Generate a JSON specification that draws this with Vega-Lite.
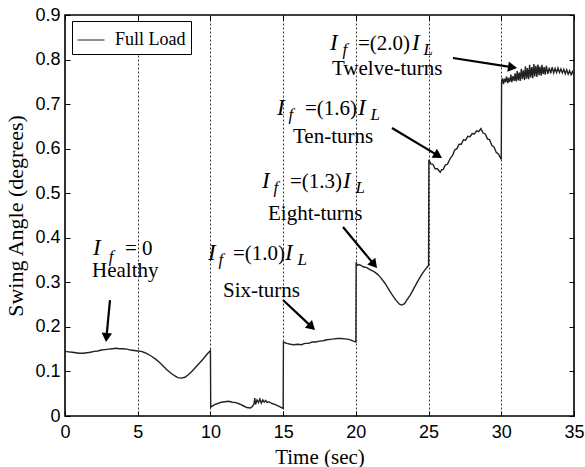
{
  "$schema": "https://vega.github.io/schema/vega-lite/v6.json",
  "width": 509,
  "height": 401,
  "autosize": {"type": "none"},
  "padding": {"left": 65, "top": 15, "right": 11, "bottom": 51},
  "background": "#ffffff",
  "config": {
    "view": {"stroke": "#000000", "strokeWidth": 1.6},
    "legend": {
      "orient": "none",
      "legendX": 7,
      "legendY": 6,
      "strokeColor": "#000000",
      "fillColor": "#ffffff",
      "padding": 5,
      "labelFont": "Liberation Serif",
      "labelFontSize": 18,
      "labelColor": "#000000",
      "labelOffset": 10,
      "symbolType": "stroke",
      "symbolSize": 729,
      "symbolStrokeWidth": 1
    }
  },
  "datasets": {
    "curve": [
      {"t": 0, "v": 0.145}, {"t": 0.25, "v": 0.144}, {"t": 0.5, "v": 0.143}, {"t": 0.75, "v": 0.142},
      {"t": 1.0, "v": 0.141}, {"t": 1.25, "v": 0.141}, {"t": 1.5, "v": 0.142}, {"t": 1.75, "v": 0.143},
      {"t": 2.0, "v": 0.145}, {"t": 2.25, "v": 0.146}, {"t": 2.5, "v": 0.148}, {"t": 2.75, "v": 0.149},
      {"t": 3.0, "v": 0.15}, {"t": 3.25, "v": 0.151}, {"t": 3.5, "v": 0.152}, {"t": 3.75, "v": 0.151},
      {"t": 4.0, "v": 0.151}, {"t": 4.25, "v": 0.15}, {"t": 4.5, "v": 0.148}, {"t": 4.75, "v": 0.147},
      {"t": 5.0, "v": 0.146}, {"t": 5.25, "v": 0.145}, {"t": 5.5, "v": 0.142}, {"t": 5.75, "v": 0.138},
      {"t": 6.0, "v": 0.133}, {"t": 6.25, "v": 0.127}, {"t": 6.5, "v": 0.12}, {"t": 6.75, "v": 0.112},
      {"t": 7.0, "v": 0.104}, {"t": 7.25, "v": 0.097}, {"t": 7.5, "v": 0.091}, {"t": 7.75, "v": 0.086},
      {"t": 8.0, "v": 0.085}, {"t": 8.25, "v": 0.087}, {"t": 8.5, "v": 0.093}, {"t": 8.75, "v": 0.101},
      {"t": 9.0, "v": 0.11}, {"t": 9.25, "v": 0.119}, {"t": 9.5, "v": 0.128}, {"t": 9.75, "v": 0.138},
      {"t": 10.0, "v": 0.147},
      {"t": 10.02, "v": 0.02}, {"t": 10.25, "v": 0.025}, {"t": 10.5, "v": 0.028}, {"t": 10.75, "v": 0.031},
      {"t": 11.0, "v": 0.032}, {"t": 11.25, "v": 0.033}, {"t": 11.5, "v": 0.031}, {"t": 11.75, "v": 0.03},
      {"t": 12.0, "v": 0.027}, {"t": 12.25, "v": 0.023}, {"t": 12.5, "v": 0.019}, {"t": 12.75, "v": 0.018},
      {"t": 12.9, "v": 0.022}, {"t": 13.0, "v": 0.028}, {"t": 13.05, "v": 0.04}, {"t": 13.1, "v": 0.026},
      {"t": 13.2, "v": 0.036}, {"t": 13.3, "v": 0.03}, {"t": 13.4, "v": 0.038}, {"t": 13.5, "v": 0.029},
      {"t": 13.6, "v": 0.036}, {"t": 13.7, "v": 0.031}, {"t": 13.8, "v": 0.035}, {"t": 13.9, "v": 0.03},
      {"t": 14.0, "v": 0.032}, {"t": 14.25, "v": 0.028}, {"t": 14.5, "v": 0.025}, {"t": 14.75, "v": 0.021},
      {"t": 15.0, "v": 0.017},
      {"t": 15.02, "v": 0.166}, {"t": 15.25, "v": 0.163}, {"t": 15.5, "v": 0.161}, {"t": 15.75, "v": 0.16},
      {"t": 16.0, "v": 0.161}, {"t": 16.25, "v": 0.16}, {"t": 16.5, "v": 0.163}, {"t": 16.75, "v": 0.163},
      {"t": 17.0, "v": 0.166}, {"t": 17.25, "v": 0.166}, {"t": 17.5, "v": 0.168}, {"t": 17.75, "v": 0.169},
      {"t": 18.0, "v": 0.171}, {"t": 18.25, "v": 0.172}, {"t": 18.5, "v": 0.173}, {"t": 18.75, "v": 0.174},
      {"t": 19.0, "v": 0.174}, {"t": 19.25, "v": 0.173}, {"t": 19.5, "v": 0.172}, {"t": 19.75, "v": 0.169},
      {"t": 20.0, "v": 0.166},
      {"t": 20.02, "v": 0.345}, {"t": 20.1, "v": 0.338}, {"t": 20.25, "v": 0.34}, {"t": 20.5, "v": 0.335},
      {"t": 20.75, "v": 0.333}, {"t": 21.0, "v": 0.328}, {"t": 21.25, "v": 0.324}, {"t": 21.5, "v": 0.318},
      {"t": 21.75, "v": 0.309}, {"t": 22.0, "v": 0.298}, {"t": 22.25, "v": 0.285}, {"t": 22.5, "v": 0.272},
      {"t": 22.75, "v": 0.26}, {"t": 23.0, "v": 0.251}, {"t": 23.15, "v": 0.249}, {"t": 23.35, "v": 0.252},
      {"t": 23.5, "v": 0.26}, {"t": 23.75, "v": 0.272}, {"t": 24.0, "v": 0.287}, {"t": 24.25, "v": 0.302},
      {"t": 24.5, "v": 0.316}, {"t": 24.75, "v": 0.328}, {"t": 25.0, "v": 0.338},
      {"t": 25.02, "v": 0.575}, {"t": 25.15, "v": 0.566}, {"t": 25.3, "v": 0.565}, {"t": 25.45, "v": 0.555},
      {"t": 25.6, "v": 0.555}, {"t": 25.8, "v": 0.547}, {"t": 25.9, "v": 0.553}, {"t": 26.0, "v": 0.553},
      {"t": 26.15, "v": 0.563}, {"t": 26.3, "v": 0.565}, {"t": 26.5, "v": 0.579}, {"t": 26.65, "v": 0.585},
      {"t": 26.8, "v": 0.597}, {"t": 26.95, "v": 0.6}, {"t": 27.1, "v": 0.61}, {"t": 27.25, "v": 0.61},
      {"t": 27.4, "v": 0.62}, {"t": 27.55, "v": 0.619}, {"t": 27.7, "v": 0.628}, {"t": 27.85, "v": 0.627},
      {"t": 28.0, "v": 0.634}, {"t": 28.15, "v": 0.633}, {"t": 28.3, "v": 0.64}, {"t": 28.45, "v": 0.638},
      {"t": 28.6, "v": 0.645}, {"t": 28.75, "v": 0.635}, {"t": 28.9, "v": 0.633}, {"t": 29.05, "v": 0.622},
      {"t": 29.2, "v": 0.62}, {"t": 29.35, "v": 0.607}, {"t": 29.5, "v": 0.604}, {"t": 29.65, "v": 0.592},
      {"t": 29.8, "v": 0.588}, {"t": 30.0, "v": 0.576},
      {"t": 30.02, "v": 0.75}, {"t": 30.08, "v": 0.758}, {"t": 30.15, "v": 0.745}, {"t": 30.22, "v": 0.757},
      {"t": 30.3, "v": 0.749}, {"t": 30.36, "v": 0.762}, {"t": 30.45, "v": 0.747}, {"t": 30.5, "v": 0.759},
      {"t": 30.58, "v": 0.75}, {"t": 30.66, "v": 0.766}, {"t": 30.72, "v": 0.749}, {"t": 30.8, "v": 0.763},
      {"t": 30.88, "v": 0.752}, {"t": 30.95, "v": 0.769}, {"t": 31.02, "v": 0.751}, {"t": 31.1, "v": 0.774},
      {"t": 31.16, "v": 0.753}, {"t": 31.24, "v": 0.771}, {"t": 31.3, "v": 0.752}, {"t": 31.38, "v": 0.779},
      {"t": 31.45, "v": 0.756}, {"t": 31.52, "v": 0.776}, {"t": 31.6, "v": 0.754}, {"t": 31.66, "v": 0.785},
      {"t": 31.74, "v": 0.757}, {"t": 31.8, "v": 0.781}, {"t": 31.88, "v": 0.756}, {"t": 31.95, "v": 0.788},
      {"t": 32.02, "v": 0.76}, {"t": 32.1, "v": 0.783}, {"t": 32.16, "v": 0.758}, {"t": 32.24, "v": 0.79},
      {"t": 32.3, "v": 0.762}, {"t": 32.38, "v": 0.786}, {"t": 32.45, "v": 0.761}, {"t": 32.52, "v": 0.789},
      {"t": 32.6, "v": 0.765}, {"t": 32.66, "v": 0.784}, {"t": 32.74, "v": 0.764}, {"t": 32.8, "v": 0.788},
      {"t": 32.88, "v": 0.767}, {"t": 32.95, "v": 0.783}, {"t": 33.02, "v": 0.766}, {"t": 33.1, "v": 0.786},
      {"t": 33.2, "v": 0.768}, {"t": 33.3, "v": 0.782}, {"t": 33.4, "v": 0.769}, {"t": 33.5, "v": 0.783},
      {"t": 33.6, "v": 0.77}, {"t": 33.7, "v": 0.78}, {"t": 33.8, "v": 0.771}, {"t": 33.9, "v": 0.781},
      {"t": 34.0, "v": 0.771}, {"t": 34.1, "v": 0.779}, {"t": 34.2, "v": 0.77}, {"t": 34.3, "v": 0.778},
      {"t": 34.4, "v": 0.768}, {"t": 34.5, "v": 0.777}, {"t": 34.6, "v": 0.767}, {"t": 34.7, "v": 0.775},
      {"t": 34.8, "v": 0.766}, {"t": 34.9, "v": 0.773}, {"t": 35.0, "v": 0.765}
    ],
    "italicI": [
      {"t": 1.925, "v": 0.3613, "s": "I"},
      {"t": 9.833, "v": 0.3501, "s": "I"},
      {"t": 15.128, "v": 0.3501, "s": "I"},
      {"t": 13.546, "v": 0.5117, "s": "I"},
      {"t": 19.116, "v": 0.5117, "s": "I"},
      {"t": 14.577, "v": 0.6756, "s": "I"},
      {"t": 20.147, "v": 0.6756, "s": "I"},
      {"t": 18.222, "v": 0.8214, "s": "I"},
      {"t": 23.86, "v": 0.8214, "s": "I"}
    ],
    "subs": [
      {"t": 3.0, "v": 0.3456, "s": "f"},
      {"t": 10.56, "v": 0.3389, "s": "f"},
      {"t": 15.99, "v": 0.3389, "s": "L"},
      {"t": 14.34, "v": 0.5005, "s": "f"},
      {"t": 19.98, "v": 0.5005, "s": "L"},
      {"t": 15.37, "v": 0.6643, "s": "f"},
      {"t": 21.01, "v": 0.6643, "s": "L"},
      {"t": 19.09, "v": 0.8102, "s": "f"},
      {"t": 24.65, "v": 0.8102, "s": "L"}
    ],
    "plain": [
      {"t": 4.126, "v": 0.3613, "s": "= 0"},
      {"t": 11.552, "v": 0.3501, "s": "=(1.0)"},
      {"t": 15.471, "v": 0.5117, "s": "=(1.3)"},
      {"t": 16.503, "v": 0.6756, "s": "=(1.6)"},
      {"t": 20.147, "v": 0.8214, "s": "=(2.0)"},
      {"t": 1.857, "v": 0.312, "s": "Healthy"},
      {"t": 10.864, "v": 0.2671, "s": "Six-turns"},
      {"t": 13.958, "v": 0.4399, "s": "Eight-turns"},
      {"t": 15.678, "v": 0.6127, "s": "Ten-turns"},
      {"t": 18.359, "v": 0.7653, "s": "Twelve-turns"}
    ],
    "arrows": [
      {"id": 1, "t": 3.094, "v": 0.2603, "t2": 2.858, "v2": 0.1795},
      {"id": 2, "t": 14.99, "v": 0.2603, "t2": 16.89, "v2": 0.2022},
      {"id": 3, "t": 19.116, "v": 0.4242, "t2": 21.19, "v2": 0.3425},
      {"id": 4, "t": 22.485, "v": 0.6464, "t2": 25.57, "v2": 0.586},
      {"id": 5, "t": 26.679, "v": 0.8035, "t2": 30.673, "v2": 0.7831}
    ]
  },
  "resolve": {"axis": {"x": "independent", "y": "independent"}},
  "layer": [
    {
      "data": {"name": "curve"},
      "mark": {"type": "line", "strokeWidth": 1.4, "interpolate": "linear"},
      "encoding": {
        "x": {
          "field": "t", "type": "quantitative",
          "scale": {"domain": [0, 35], "nice": false, "zero": false},
          "axis": {
            "orient": "bottom", "values": [0, 5, 10, 15, 20, 25, 30, 35],
            "title": "Time (sec)", "titleFont": "Liberation Serif", "titleFontSize": 21,
            "titleFontWeight": "normal", "titleColor": "#000000", "titlePadding": 5,
            "labelFont": "Liberation Sans", "labelFontSize": 18, "labelColor": "#000000",
            "labelPadding": 12, "tickSize": -5, "tickColor": "#000000", "tickWidth": 1,
            "domain": false, "grid": true, "gridColor": "#333333", "gridDash": [2, 2],
            "gridOpacity": 1, "gridWidth": 1, "labelFlush": false
          }
        },
        "y": {
          "field": "v", "type": "quantitative",
          "scale": {"domain": [0, 0.9], "nice": false, "zero": false},
          "axis": {
            "orient": "left", "values": [0, 0.1, 0.2, 0.3, 0.4, 0.5, 0.6, 0.7, 0.8, 0.9],
            "format": "~g",
            "title": "Swing Angle (degrees)", "titleFont": "Liberation Serif", "titleFontSize": 22,
            "titleFontWeight": "normal", "titleColor": "#000000", "titlePadding": 7,
            "labelFont": "Liberation Sans", "labelFontSize": 18, "labelColor": "#000000",
            "labelPadding": 10, "tickSize": -5, "tickColor": "#000000", "tickWidth": 1,
            "domain": false, "grid": false, "labelFlush": false
          }
        },
        "color": {
          "datum": "Full Load",
          "scale": {"range": ["#222222"]},
          "legend": {"title": null}
        }
      }
    },
    {
      "data": {"name": "arrows"},
      "mark": {"type": "point", "opacity": 0},
      "encoding": {
        "x": {
          "field": "t", "type": "quantitative",
          "scale": {"domain": [0, 35], "nice": false, "zero": false},
          "axis": {"orient": "top", "values": [0, 5, 10, 15, 20, 25, 30, 35], "labels": false,
                   "title": null, "tickSize": -5, "tickColor": "#000000", "domain": false, "grid": false}
        },
        "y": {
          "field": "v", "type": "quantitative",
          "scale": {"domain": [0, 0.9], "nice": false, "zero": false},
          "axis": {"orient": "right", "values": [0, 0.1, 0.2, 0.3, 0.4, 0.5, 0.6, 0.7, 0.8, 0.9], "labels": false,
                   "title": null, "tickSize": -5, "tickColor": "#000000", "domain": false, "grid": false}
        }
      }
    },
    {
      "data": {"name": "arrows"},
      "mark": {"type": "rule", "color": "#000000", "strokeWidth": 2.2},
      "encoding": {
        "x": {"field": "t", "type": "quantitative", "scale": {"domain": [0, 35], "nice": false, "zero": false}, "axis": null},
        "y": {"field": "v", "type": "quantitative", "scale": {"domain": [0, 0.9], "nice": false, "zero": false}, "axis": null},
        "x2": {"field": "t2"},
        "y2": {"field": "v2"}
      }
    },
    {
      "data": {"name": "arrows"},
      "transform": [{"filter": "datum.id == 1"}],
      "mark": {"type": "point", "shape": "triangle", "filled": true, "color": "#000000", "size": 110, "angle": 185.4, "opacity": 1},
      "encoding": {
        "x": {"field": "t2", "type": "quantitative", "scale": {"domain": [0, 35], "nice": false, "zero": false}, "axis": null},
        "y": {"field": "v2", "type": "quantitative", "scale": {"domain": [0, 0.9], "nice": false, "zero": false}, "axis": null}
      }
    },
    {
      "data": {"name": "arrows"},
      "transform": [{"filter": "datum.id == 2"}],
      "mark": {"type": "point", "shape": "triangle", "filled": true, "color": "#000000", "size": 110, "angle": 133.2, "opacity": 1},
      "encoding": {
        "x": {"field": "t2", "type": "quantitative", "scale": {"domain": [0, 35], "nice": false, "zero": false}, "axis": null},
        "y": {"field": "v2", "type": "quantitative", "scale": {"domain": [0, 0.9], "nice": false, "zero": false}, "axis": null}
      }
    },
    {
      "data": {"name": "arrows"},
      "transform": [{"filter": "datum.id == 3"}],
      "mark": {"type": "point", "shape": "triangle", "filled": true, "color": "#000000", "size": 110, "angle": 140.3, "opacity": 1},
      "encoding": {
        "x": {"field": "t2", "type": "quantitative", "scale": {"domain": [0, 35], "nice": false, "zero": false}, "axis": null},
        "y": {"field": "v2", "type": "quantitative", "scale": {"domain": [0, 0.9], "nice": false, "zero": false}, "axis": null}
      }
    },
    {
      "data": {"name": "arrows"},
      "transform": [{"filter": "datum.id == 4"}],
      "mark": {"type": "point", "shape": "triangle", "filled": true, "color": "#000000", "size": 110, "angle": 121.0, "opacity": 1},
      "encoding": {
        "x": {"field": "t2", "type": "quantitative", "scale": {"domain": [0, 35], "nice": false, "zero": false}, "axis": null},
        "y": {"field": "v2", "type": "quantitative", "scale": {"domain": [0, 0.9], "nice": false, "zero": false}, "axis": null}
      }
    },
    {
      "data": {"name": "arrows"},
      "transform": [{"filter": "datum.id == 5"}],
      "mark": {"type": "point", "shape": "triangle", "filled": true, "color": "#000000", "size": 110, "angle": 98.9, "opacity": 1},
      "encoding": {
        "x": {"field": "t2", "type": "quantitative", "scale": {"domain": [0, 35], "nice": false, "zero": false}, "axis": null},
        "y": {"field": "v2", "type": "quantitative", "scale": {"domain": [0, 0.9], "nice": false, "zero": false}, "axis": null}
      }
    },
    {
      "data": {"name": "italicI"},
      "mark": {"type": "text", "font": "Liberation Serif", "fontStyle": "italic", "fontSize": 23, "align": "left", "baseline": "alphabetic", "color": "#000000"},
      "encoding": {
        "x": {"field": "t", "type": "quantitative", "scale": {"domain": [0, 35], "nice": false, "zero": false}, "axis": null},
        "y": {"field": "v", "type": "quantitative", "scale": {"domain": [0, 0.9], "nice": false, "zero": false}, "axis": null},
        "text": {"field": "s"}
      }
    },
    {
      "data": {"name": "subs"},
      "mark": {"type": "text", "font": "Liberation Serif", "fontStyle": "italic", "fontSize": 17, "align": "left", "baseline": "alphabetic", "color": "#000000"},
      "encoding": {
        "x": {"field": "t", "type": "quantitative", "scale": {"domain": [0, 35], "nice": false, "zero": false}, "axis": null},
        "y": {"field": "v", "type": "quantitative", "scale": {"domain": [0, 0.9], "nice": false, "zero": false}, "axis": null},
        "text": {"field": "s"}
      }
    },
    {
      "data": {"name": "plain"},
      "mark": {"type": "text", "font": "Liberation Serif", "fontSize": 21, "align": "left", "baseline": "alphabetic", "color": "#000000"},
      "encoding": {
        "x": {"field": "t", "type": "quantitative", "scale": {"domain": [0, 35], "nice": false, "zero": false}, "axis": null},
        "y": {"field": "v", "type": "quantitative", "scale": {"domain": [0, 0.9], "nice": false, "zero": false}, "axis": null},
        "text": {"field": "s"}
      }
    }
  ]
}
